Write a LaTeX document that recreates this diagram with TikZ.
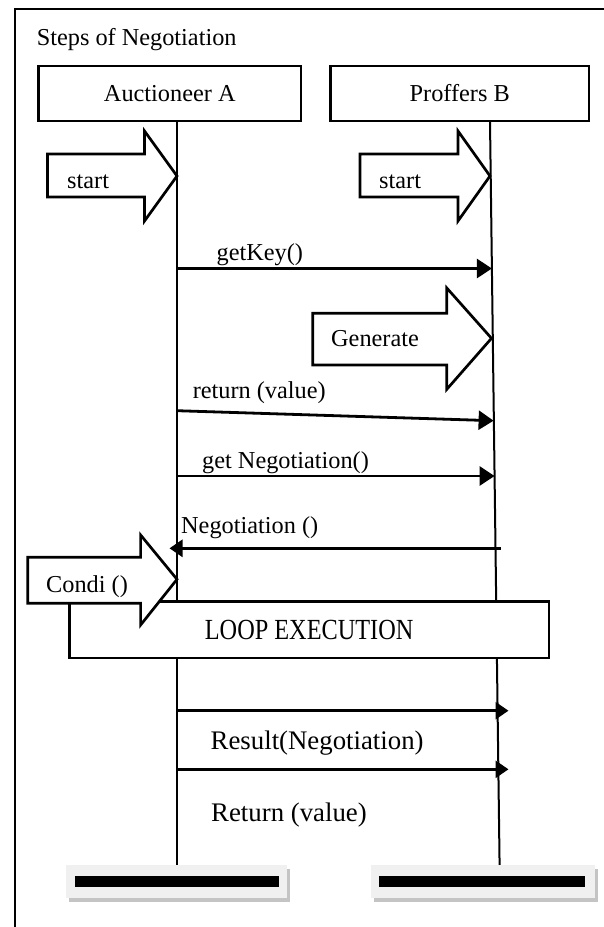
\documentclass[tikz,border=0pt]{standalone}
\usepackage{fontspec}
\setmainfont{Liberation Serif}
\usepackage{graphicx}
\usetikzlibrary{arrows.meta}
\definecolor{panelgray}{HTML}{F0F0F0}
\definecolor{shadowgray}{HTML}{C4C4C4}
\begin{document}
\begin{tikzpicture}[x=1pt,y=-1pt,
  txt/.style={font=\fontsize{24.3}{28}\selectfont, inner sep=0pt, anchor=base west},
  bigtxt/.style={font=\fontsize{26.8}{31}\selectfont, inner sep=0pt, anchor=base west},
  hdr/.style={draw, line width=2.7pt, fill=white, font=\fontsize{24.3}{28}\selectfont, inner sep=0pt},
  life/.style={line width=2pt},
  msg/.style={line width=2.8pt, -{Triangle[length=15pt,width=19pt]}},
  msgsmall/.style={line width=2.8pt, -{Triangle[length=13pt,width=17pt]}},
  blk/.style={draw, line width=2.7pt, fill=white, line join=miter},
  frame/.style={line width=2.5pt},
  panel/.style={fill=panelgray},
  shadow/.style={fill=shadowgray},
  bar/.style={fill=black},
]
\useasboundingbox (0,0) rectangle (604,927);
\fill[white] (0,0) rectangle (604,927);

% outer frame (top and left)
\draw[frame] (15,927) -- (15,9) -- (604,9);

% title
\node[txt] (title) at (36.6,45.7) {Steps of Negotiation};

% lifeline heads
\node[hdr, minimum width=262.5pt, minimum height=55pt] (A) at (169.75,93.5) {Auctioneer A};
\node[hdr, minimum width=258.5pt, minimum height=55pt] (B) at (459.75,93.5) {Proffers B};

% lifelines
\coordinate (Atop) at (177,121);
\coordinate (Abot) at (177,866);
\coordinate (Btop) at (490,121);
\coordinate (Bbot) at (499.6,866);
\draw[life] (Atop) -- (Abot);
\draw[life] (Btop) -- (Bbot);

% start arrows
\draw[blk] (47.4,154) -- (144.5,154) -- (144.5,131) -- (177,176) -- (144.5,221) -- (144.5,197) -- (47.4,197) -- cycle;
\node[txt] (startA) at (67,188) {start};
\draw[blk] (360,154) -- (458,154) -- (458,131) -- (490,176) -- (458,221) -- (458,197) -- (360,197) -- cycle;
\node[txt] (startB) at (379,188) {start};

% getKey()
\coordinate (m1a) at (177,268.5);
\coordinate (m1b) at (491.9,268.5);
\draw[msg] (m1a) -- (m1b);
\node[txt] (l1) at (216.5,260) {getKey()};

% Generate
\draw[blk] (312.8,313.3) -- (446.8,313.3) -- (446.8,288) -- (491.5,338.3) -- (446.8,389.3) -- (446.8,365) -- (312.8,365) -- cycle;
\node[txt] (gen) at (331,346) {Generate};

% return (value)
\coordinate (m2a) at (177,410.7);
\coordinate (m2b) at (493.6,420.7);
\draw[msg] (m2a) -- (m2b);
\node[txt] (l2) at (192.6,398.5) {return (value)};

% get Negotiation()
\coordinate (m3a) at (177,476);
\coordinate (m3b) at (494.6,476);
\draw[msg] (m3a) -- (m3b);
\node[txt] (l3) at (202,468) {get Negotiation()};

% Negotiation ()
\coordinate (m4a) at (500.8,548.3);
\coordinate (m4b) at (169.5,548.3);
\draw[msgsmall] (m4a) -- (m4b);
\node[txt] (l4) at (181,533) {Negotiation ()};

% loop box
\node[hdr, minimum width=479.7pt, minimum height=56.3pt] (loop) at (309.15,629.85) {\scalebox{1}[1.2]{LOOP EXECUTION}};

% Condi ()
\draw[blk] (27.7,557.3) -- (140.6,557.3) -- (140.6,535) -- (177,579.3) -- (140.6,625) -- (140.6,603.3) -- (27.7,603.3) -- cycle;
\node[txt] (condi) at (46,592) {Condi ()};

% after loop
\coordinate (m5a) at (177,710.7);
\coordinate (m5b) at (508.5,710.7);
\draw[msgsmall] (m5a) -- (m5b);
\node[bigtxt] (l5) at (210.5,749.3) {Result(Negotiation)};

\coordinate (m6a) at (177,769.3);
\coordinate (m6b) at (508.5,769.3);
\draw[msgsmall] (m6a) -- (m6b);
\node[bigtxt] (l6) at (211,821.5) {Return (value)};

% end bars
\fill[shadow] (69,869) rectangle (290,902);
\fill[panel] (66,865) rectangle (287,898);
\fill[bar] (75,876) rectangle (279,887.3);
\fill[shadow] (374,869) rectangle (598,902);
\fill[panel] (371,865) rectangle (595,898);
\fill[bar] (379,876) rectangle (585,887.3);
\end{tikzpicture}
\end{document}
